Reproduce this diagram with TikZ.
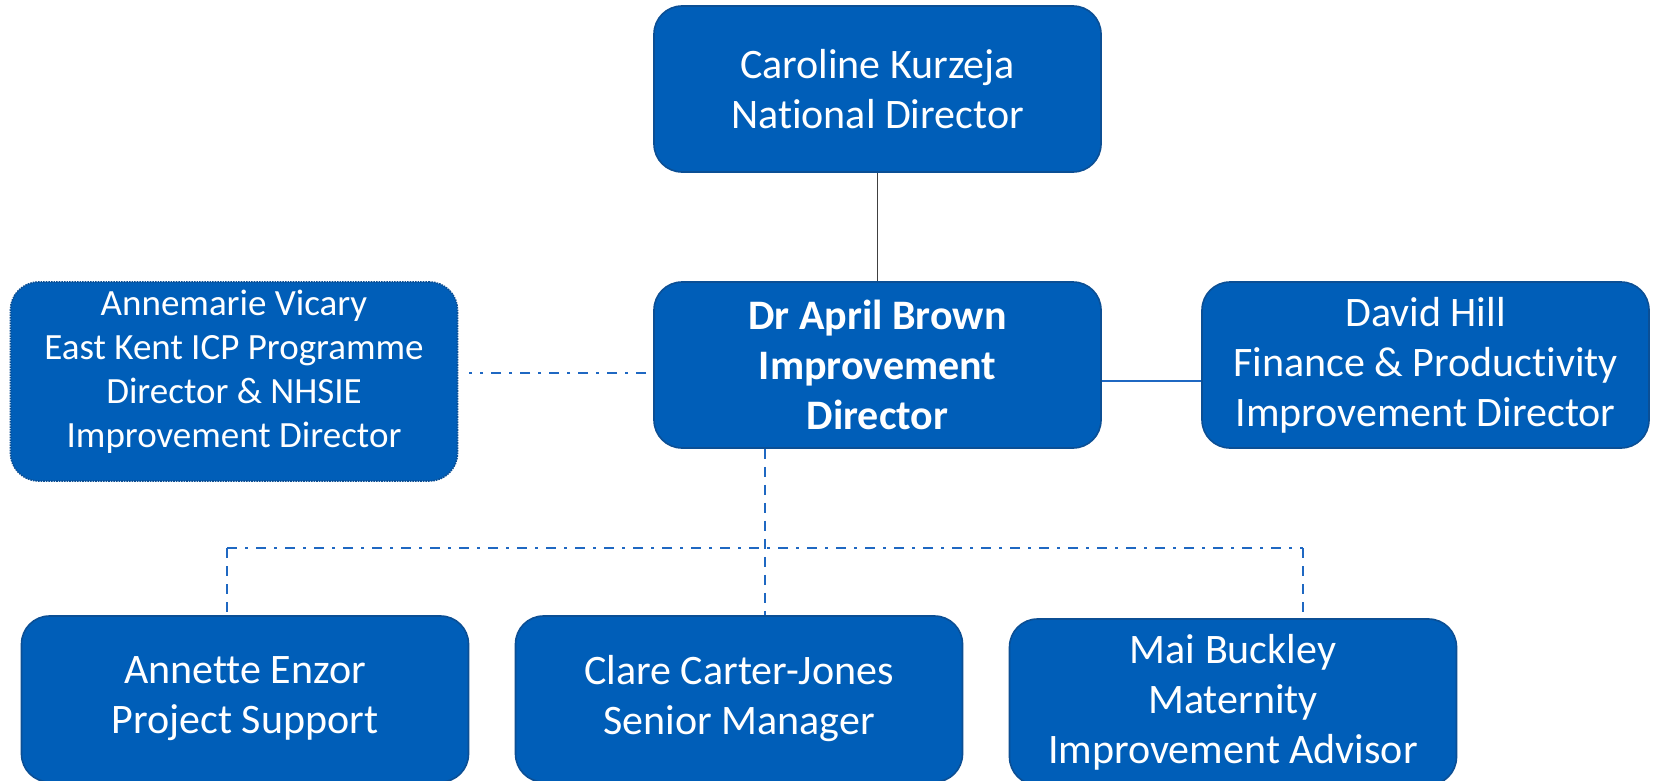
\documentclass[tikz,border=0pt]{standalone}
\usepackage{fontspec}
\setmainfont[Ligatures=NoCommon]{Carlito}
\definecolor{nhsblue}{HTML}{005EB8}
\definecolor{nhsedge}{HTML}{0B4F95}
\definecolor{linkblue}{HTML}{1F68C2}
\definecolor{linkgrey}{HTML}{404040}
\begin{document}
\begin{tikzpicture}[x=1pt,y=-1pt,
  box/.style={draw=nhsedge, line width=1.6pt, fill=nhsblue, rounded corners=28pt,
    minimum width=447pt, minimum height=166pt, inner sep=0pt, align=center,
    text=white, font=\fontsize{42}{50}\selectfont},
  sidebox/.style={box, densely dotted, minimum height=199pt, text depth=25pt,
    font=\fontsize{37}{44}\selectfont},
  solidlink/.style={draw=linkblue, line width=1.5pt},
  headlink/.style={draw=linkgrey, line width=1.5pt},
  dashlink/.style={draw=linkblue, line width=1.6pt, dash pattern=on 10pt off 8pt},
  dotdashlink/.style={draw=linkblue, line width=1.6pt,
    dash pattern=on 10pt off 8pt on 3pt off 8pt}]
\clip (0,0) rectangle (1654,781);
\fill[white] (0,0) rectangle (1654,781);

% boxes
\node[box] (car) at (877.5,89) {Caroline Kurzeja\\National Director};
\node[box, font=\fontsize{42}{50}\selectfont\bfseries] (apr) at (877.5,365)
  {Dr April Brown\\Improvement\\Director};
\node[box] (dav) at (1425.5,365) {David Hill\\Finance \& Productivity\\Improvement Director};
\node[sidebox] (ann) at (234,381.5)
  {Annemarie Vicary\\East Kent ICP Programme\\Director \& NHSIE\\Improvement Director};
\node[box] (enz) at (245,699) {Annette Enzor\\Project Support};
\node[box] (cla) at (739,699) {Clare Carter-Jones\\Senior Manager};
\node[box] (mai) at (1233,702) {Mai Buckley\\Maternity\\Improvement Advisor};

% line management
\draw[headlink] (car.south) -- (apr.north);
\draw[solidlink] ([yshift=-16pt]apr.east) -- ([yshift=-16pt]dav.west);

% dotted-line relationship
\coordinate (side) at ([yshift=-8pt]apr.west);
\draw[dotdashlink, shorten <=7pt, shorten >=11pt] (side) -- (side -| ann.east);

% team structure
\coordinate (hub) at (765,548);
\coordinate (lft) at (227,548);
\coordinate (rgt) at (1303,548);
\draw[dashlink] (hub |- apr.south) -- (hub |- cla.north);
\draw[dotdashlink] (lft) -- (rgt);
\draw[dashlink] (lft) -- (lft |- enz.north);
\draw[dashlink] (rgt) -- (rgt |- mai.north);
\end{tikzpicture}
\end{document}
